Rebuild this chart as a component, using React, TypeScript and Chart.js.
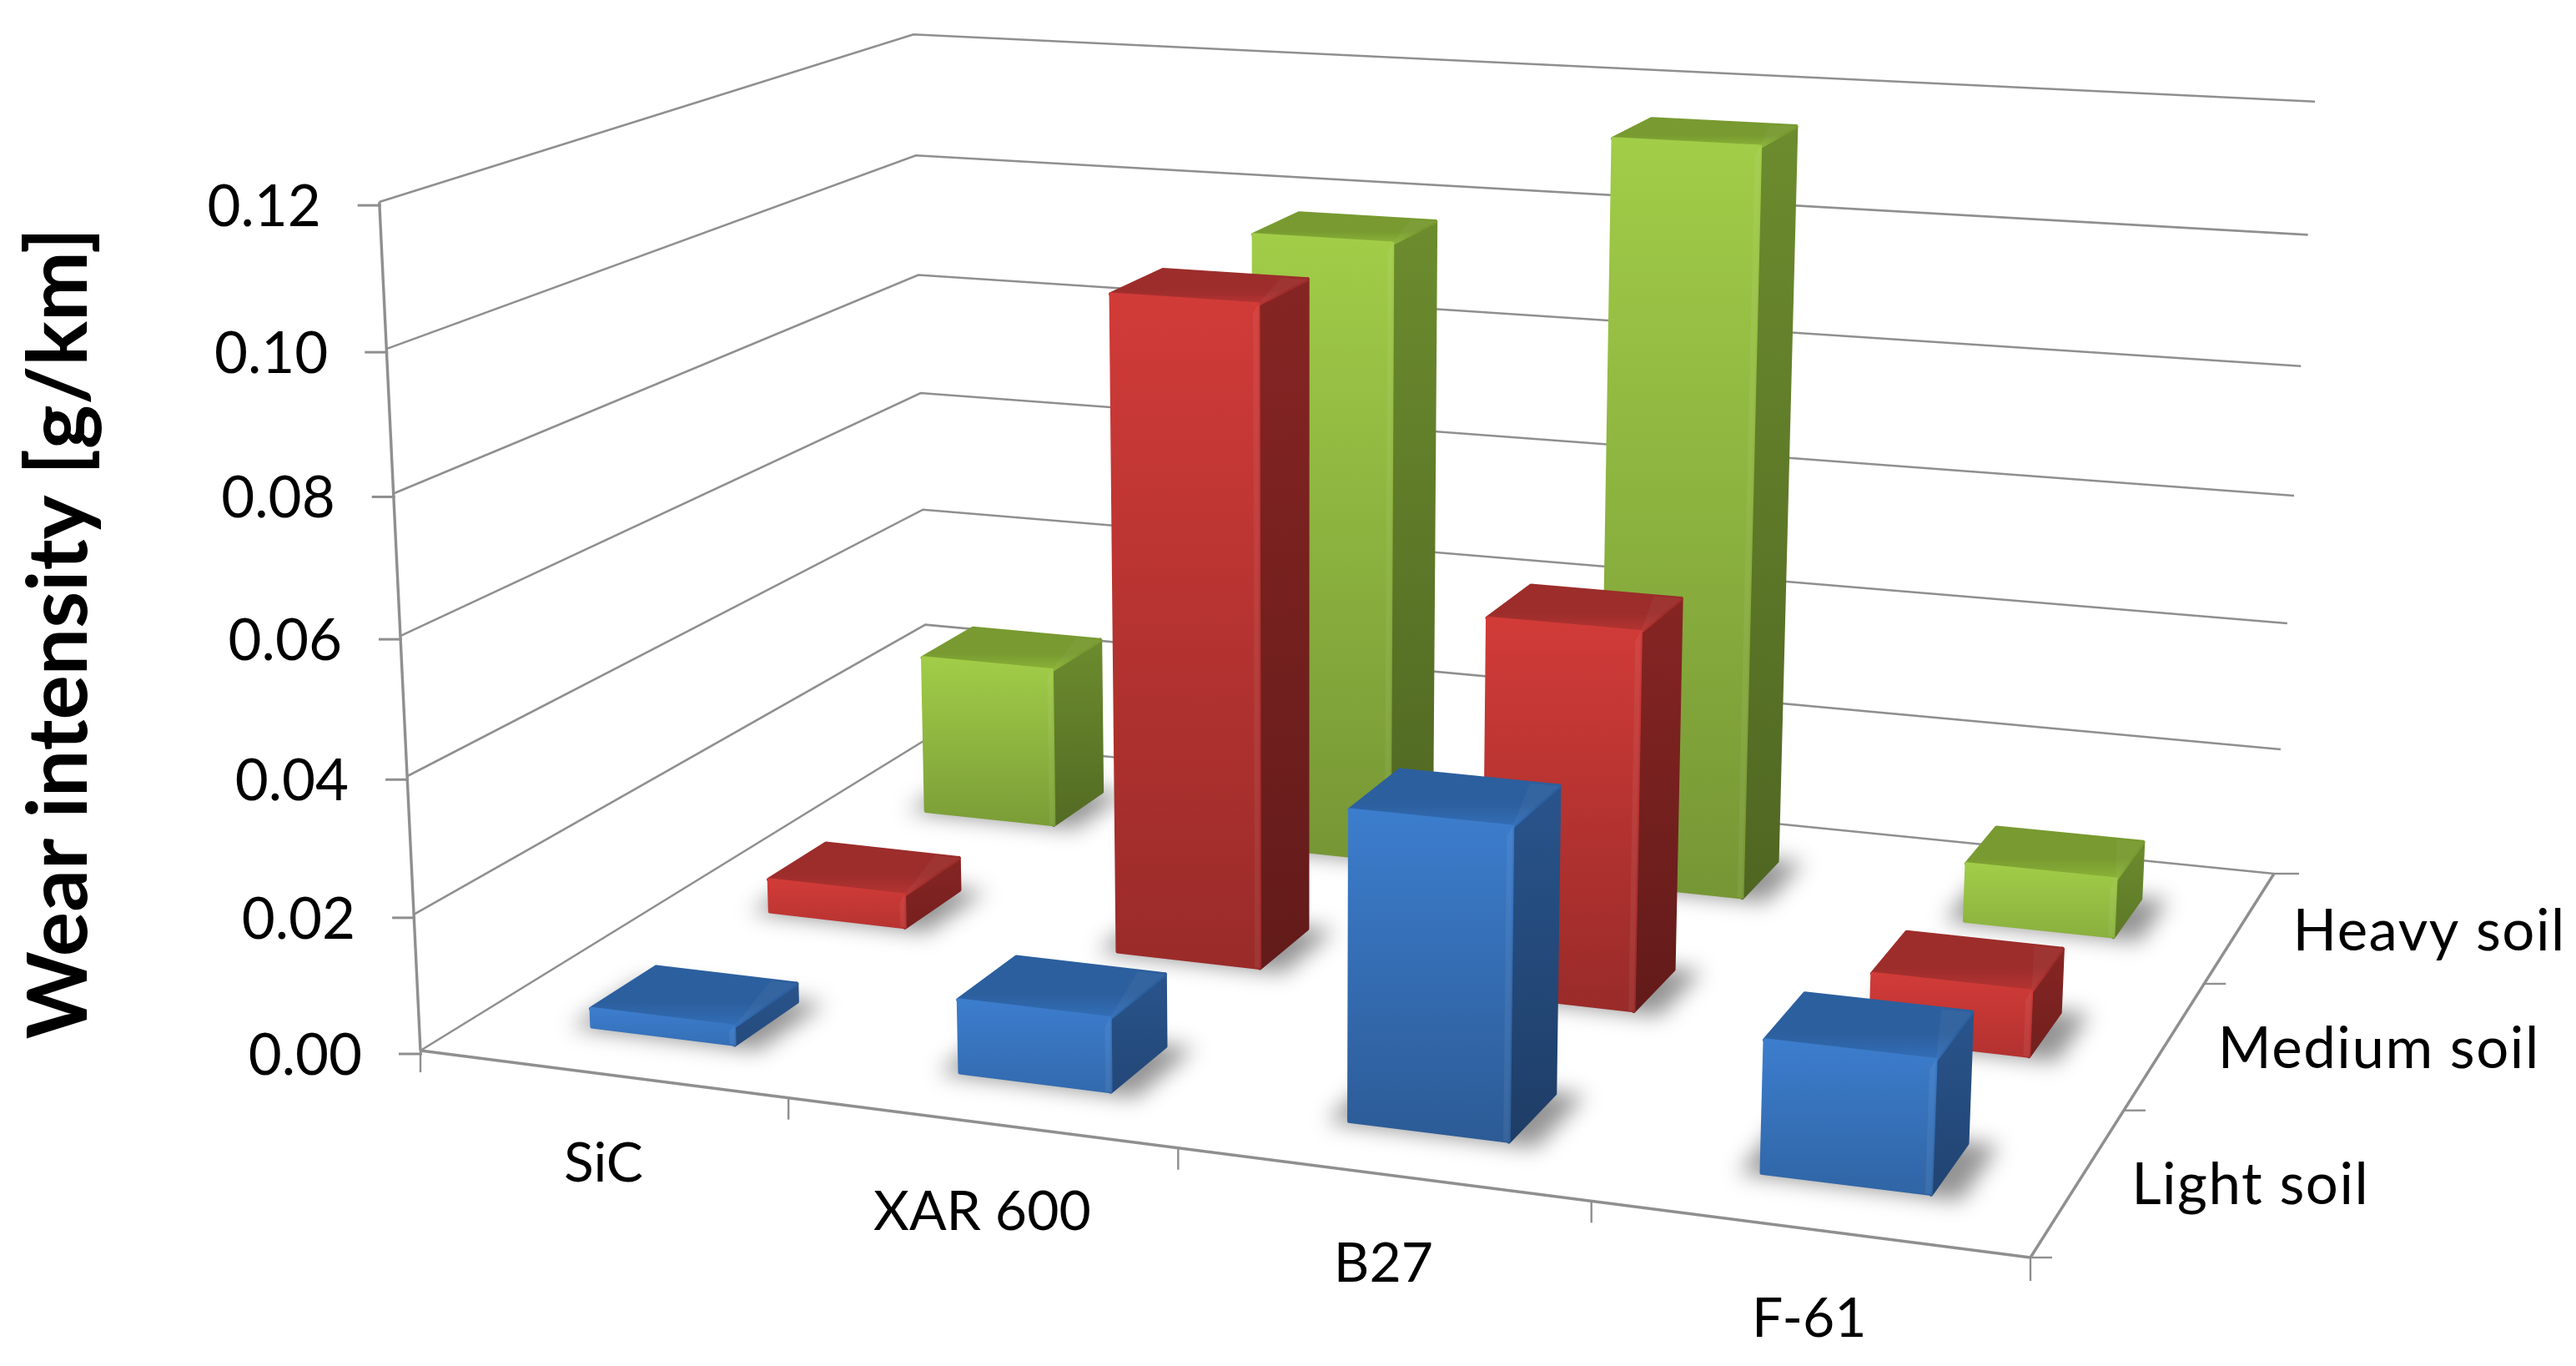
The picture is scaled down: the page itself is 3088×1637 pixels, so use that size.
import React, { useEffect, useRef } from "react";
import { Chart, registerables } from "chart.js";

Chart.register(...registerables);

const categories = ["SiC", "XAR 600", "B27", "F-61"];
const soils = ["Light soil", "Medium soil", "Heavy soil"];
const lightSoil = [0.0027, 0.0106, 0.0436, 0.0183];
const mediumSoil = [0.0051, 0.0988, 0.0559, 0.0095];
const heavySoil = [0.0257, 0.0978, 0.1155, 0.009];
const axisTitle = "Wear intensity [g/km]";

type RGB = [number, number, number];
const palette: { front: RGB; side: RGB; top: RGB }[] = [
  { front: [60, 125, 205], side: [41, 84, 140], top: [44, 95, 158] },
  { front: [209, 59, 56], side: [134, 37, 35], top: [156, 45, 43] },
  { front: [161, 205, 72], side: [108, 140, 46], top: [120, 154, 48] },
];

// Projection calibration of the 3D box (floor corners, and wall tops)
const FLOOR = [[504, 1259], [2434, 1507], [2726, 1047], [1112, 885]];
const TOPS = [
  { u: 0, v: 0, x: 456, y: 244 },
  { u: 0, v: 1, x: 1094, y: 35 },
  { u: 1, v: 1, x: 2775, y: 127 },
];
const BAR_U = 0.395;
const BAR_V = 0.35;
const BAR_U_SHIFT = 0.002;
const BAR_V_SHIFT = -0.007;

function makeProjection() {
  const [[x0, y0], [x1, y1], [x2, y2], [x3, y3]] = FLOOR;
  const dx1 = x1 - x2, dx2 = x3 - x2, sx = x0 - x1 + x2 - x3;
  const dy1 = y1 - y2, dy2 = y3 - y2, sy = y0 - y1 + y2 - y3;
  const den = dx1 * dy2 - dx2 * dy1;
  const g = (sx * dy2 - dx2 * sy) / den;
  const h = (dx1 * sy - sx * dy1) / den;
  const a = x1 - x0 + g * x1, b = x3 - x0 + h * x3, c = x0;
  const d = y1 - y0 + g * y1, e = y3 - y0 + h * y3, f = y0;
  const rows = TOPS.map((p) => {
    const W = g * p.u + h * p.v + 1;
    return {
      X: p.x,
      Y: p.y,
      A: p.x * W - (a * p.u + b * p.v + c),
      B: p.y * W - (d * p.u + e * p.v + f),
    };
  });
  const mean = (k: "X" | "Y" | "A" | "B") => rows.reduce((s, r) => s + r[k], 0) / rows.length;
  const mX = mean("X"), mY = mean("Y"), mA = mean("A"), mB = mean("B");
  let num = 0, dn = 0;
  rows.forEach((r) => {
    num += (r.X - mX) * (r.A - mA) + (r.Y - mY) * (r.B - mB);
    dn += (r.X - mX) ** 2 + (r.Y - mY) ** 2;
  });
  const r = -num / dn;
  const p = mA + mX * r;
  const q = mB + mY * r;
  return (u: number, v: number, t: number): [number, number] => {
    const w = g * u + h * v + 1 + r * t;
    return [(a * u + b * v + c + p * t) / w, (d * u + e * v + f + q * t) / w];
  };
}

const shade = (c: RGB, k: number, alpha = 1) =>
  `rgba(${Math.min(255, Math.round(c[0] * k))},${Math.min(255, Math.round(c[1] * k))},${Math.min(255, Math.round(c[2] * k))},${alpha})`;

const GRID = "#8f8f8f";
const FONT = "Lato";

const prismPlugin = {
  id: "prism",
  beforeDatasetDraw() {
    return false;
  },
  beforeDatasetsDraw(chart: any) {
    const ctx: CanvasRenderingContext2D = chart.ctx;
    const xs = chart.scales.x, ys = chart.scales.y, zs = chart.scales.z;
    const P = makeProjection();
    const uOf = (i: number) => (xs.getPixelForValue(i) - xs.left) / xs.width;
    const vOf = (j: number) => (zs.getPixelForValue(j) - zs.left) / zs.width;
    const tOf = (val: number) => (ys.bottom - ys.getPixelForValue(val)) / ys.height;
    const cellUn = (xs.getPixelForValue(1) - xs.getPixelForValue(0)) / xs.width;
    const cellVn = (zs.getPixelForValue(1) - zs.getPixelForValue(0)) / zs.width;

    const line = (a: number[], b: number[], w = 2.6, col = GRID) => {
      ctx.beginPath();
      ctx.moveTo(a[0], a[1]);
      ctx.lineTo(b[0], b[1]);
      ctx.lineWidth = w;
      ctx.strokeStyle = col;
      ctx.stroke();
    };
    const poly = (pts: number[][], fill: any, strokeW = 0) => {
      ctx.beginPath();
      pts.forEach((p, i) => (i ? ctx.lineTo(p[0], p[1]) : ctx.moveTo(p[0], p[1])));
      ctx.closePath();
      ctx.fillStyle = fill;
      ctx.fill();
      if (strokeW) {
        ctx.strokeStyle = fill;
        ctx.lineWidth = strokeW;
        ctx.lineJoin = "round";
        ctx.stroke();
      }
    };

    ctx.save();
    ctx.fillStyle = "#ffffff";
    ctx.fillRect(0, 0, chart.width, chart.height);

    // walls
    ys.ticks.forEach((tk: any) => {
      const t = tOf(tk.value);
      const A = P(0, 0, t), D = P(0, 1, t), C = P(1, 1, t);
      ctx.lineCap = "butt";
      ctx.beginPath();
      ctx.moveTo(A[0], A[1]);
      ctx.lineTo(D[0], D[1]);
      ctx.lineTo(C[0], C[1]);
      ctx.lineJoin = "miter";
      ctx.lineWidth = 2.6;
      ctx.strokeStyle = GRID;
      ctx.stroke();
      line([A[0] - 26, A[1] + 4], [A[0] + 2, A[1] + 4], 3);
      ctx.fillStyle = "#000";
      ctx.font = `69px ${FONT}`;
      ctx.textAlign = "right";
      ctx.textBaseline = "alphabetic";
      ctx.fillText((tk.value as number).toFixed(2), A[0] - 70, A[1] + 29);
    });
    line(P(0, 0, 0), P(0, 0, 1), 3.4);
    line(P(0, 0, 0), P(1, 0, 0), 3.4);
    line(P(1, 0, 0), P(1, 1, 0), 3.4);

    // category ticks and labels
    categories.forEach((_, i) => {
      const un = uOf(i) - cellUn / 2;
      const a = P(un, 0, 0);
      line(a, [a[0], a[1] + 26], 2.4);
      const m = P(uOf(i), 0, 0);
      ctx.fillStyle = "#000";
      ctx.font = `66px ${FONT}`;
      ctx.textAlign = "center";
      ctx.textBaseline = "alphabetic";
      ctx.fillText(categories[i], m[0] + 2, m[1] + 129);
    });
    const endU = P(1, 0, 0);
    line(endU, [endU[0], endU[1] + 28], 2.4);

    // depth ticks and labels
    soils.forEach((_, j) => {
      const vn = vOf(j) - cellVn / 2;
      const a = P(1, vn, 0);
      line(a, [a[0] + 26, a[1]], 2.4);
      const m = P(1, vOf(j), 0);
      ctx.fillStyle = "#000";
      ctx.font = `69px ${FONT}`;
      (ctx as any).letterSpacing = "1.5px";
      ctx.textAlign = "left";
      ctx.textBaseline = "alphabetic";
      ctx.fillText(soils[j], m[0] + 63, m[1] + 28);
      (ctx as any).letterSpacing = "0px";
    });
    const endV = P(1, 1, 0);
    line(endV, [endV[0] + 30, endV[1]], 2.4);

    // axis title
    ctx.save();
    ctx.translate(104, 759);
    ctx.rotate(-Math.PI / 2);
    ctx.fillStyle = "#000";
    ctx.font = `bold 100px ${FONT}`;
    ctx.textAlign = "center";
    ctx.textBaseline = "alphabetic";
    ctx.fillText(axisTitle, 0, 0);
    ctx.restore();

    const bars: any[] = [];
    [2, 1, 0].forEach((j) => {
      const ds = chart.data.datasets[j];
      ds.data.forEach((val: number, i: number) => {
        const hu = (BAR_U * cellUn) / 2, hv = (BAR_V * cellVn) / 2;
        const vc = vOf(j) + BAR_V_SHIFT;
        const uc = uOf(i) + BAR_U_SHIFT;
        bars.push({ j, val, u0: uc - hu, u1: uc + hu, v0: vc - hv, v1: vc + hv });
      });
    });

    // floor shadows
    ctx.save();
    (ctx as any).filter = "blur(13px)";
    bars.forEach((b) => {
      poly(
        [P(b.u0 - 0.012, b.v0 - 0.006, 0), P(b.u1 + 0.018, b.v0 - 0.006, 0), P(b.u1 + 0.018, b.v1 + 0.004, 0), P(b.u0 - 0.012, b.v1 + 0.004, 0)],
        "rgba(0,0,0,0.42)"
      );
    });
    ctx.restore();

    // prisms
    bars.forEach((b) => {
      const col = palette[b.j];
      const t = tOf(b.val);
      const k = 1 - 0.27 * Math.min(1, 0.35 + b.val / 0.05);
      const FLB = P(b.u0, b.v0, 0), FRB = P(b.u1, b.v0, 0), BRB = P(b.u1, b.v1, 0);
      const FLT = P(b.u0, b.v0, t), FRT = P(b.u1, b.v0, t), BRT = P(b.u1, b.v1, t), BLT = P(b.u0, b.v1, t);

      const gs = ctx.createLinearGradient(0, BRT[1], 0, FRB[1]);
      gs.addColorStop(0, shade(col.side, 1));
      gs.addColorStop(1, shade(col.side, k));
      poly([FRT, BRT, BRB, FRB], gs, 5);

      const gt = ctx.createLinearGradient(0, BLT[1], 0, FRT[1]);
      gt.addColorStop(0, shade(col.top, 1));
      gt.addColorStop(0.6, shade(col.top, 1));
      gt.addColorStop(1, shade(col.top, 1.16));
      poly([FLT, FRT, BRT, BLT], gt, 5);

      // lighter wedge towards the back right corner of the top face
      const ub = (b.u1 - b.u0) * 0.18;
      poly([P(b.u1, b.v0, t), BRT, P(b.u1 - ub, b.v1, t)], "rgba(255,255,255,0.04)");

      const gf = ctx.createLinearGradient(0, FLT[1], 0, FRB[1]);
      gf.addColorStop(0, shade(col.front, 1));
      gf.addColorStop(1, shade(col.front, k));
      poly([FLT, FRT, FRB, FLB], gf, 4);

      // bevel highlights along the right edge of the front face
      const bt = Math.min(0.012, t * 0.3);
      const bw = (b.u1 - b.u0) * 0.035;
      poly([FRT, FRB, P(b.u1 - bw, b.v0, 0), P(b.u1 - bw, b.v0, t - bt)], "rgba(255,255,255,0.06)");
    });
    ctx.restore();
  },
};

export default function App() {
  const ref = useRef<HTMLCanvasElement>(null);
  useEffect(() => {
    if (!ref.current) return;
    const chart = new Chart(ref.current, {
      type: "bar",
      data: {
        labels: categories,
        datasets: [
          { label: soils[0], data: lightSoil, backgroundColor: "#3c7dcd" },
          { label: soils[1], data: mediumSoil, backgroundColor: "#d13b38" },
          { label: soils[2], data: heavySoil, backgroundColor: "#a1cd48" },
        ],
      },
      options: {
        animation: false,
        responsive: false,
        layout: { padding: 0 },
        plugins: { legend: { display: false }, tooltip: { enabled: false }, title: { display: false } },
        scales: {
          x: { type: "category", display: false },
          z: { type: "category", axis: "x", position: "bottom", labels: soils, display: false },
          y: { type: "linear", min: 0, max: 0.12, ticks: { stepSize: 0.02 }, display: false },
        },
      },
      plugins: [prismPlugin],
    } as any);
    return () => chart.destroy();
  }, []);
  return (
    <div style={{ position: "fixed", left: 0, top: 0, width: 3088, height: 1637, background: "#fff" }}>
      <canvas ref={ref} width={3088} height={1637} style={{ display: "block" }} />
    </div>
  );
}
